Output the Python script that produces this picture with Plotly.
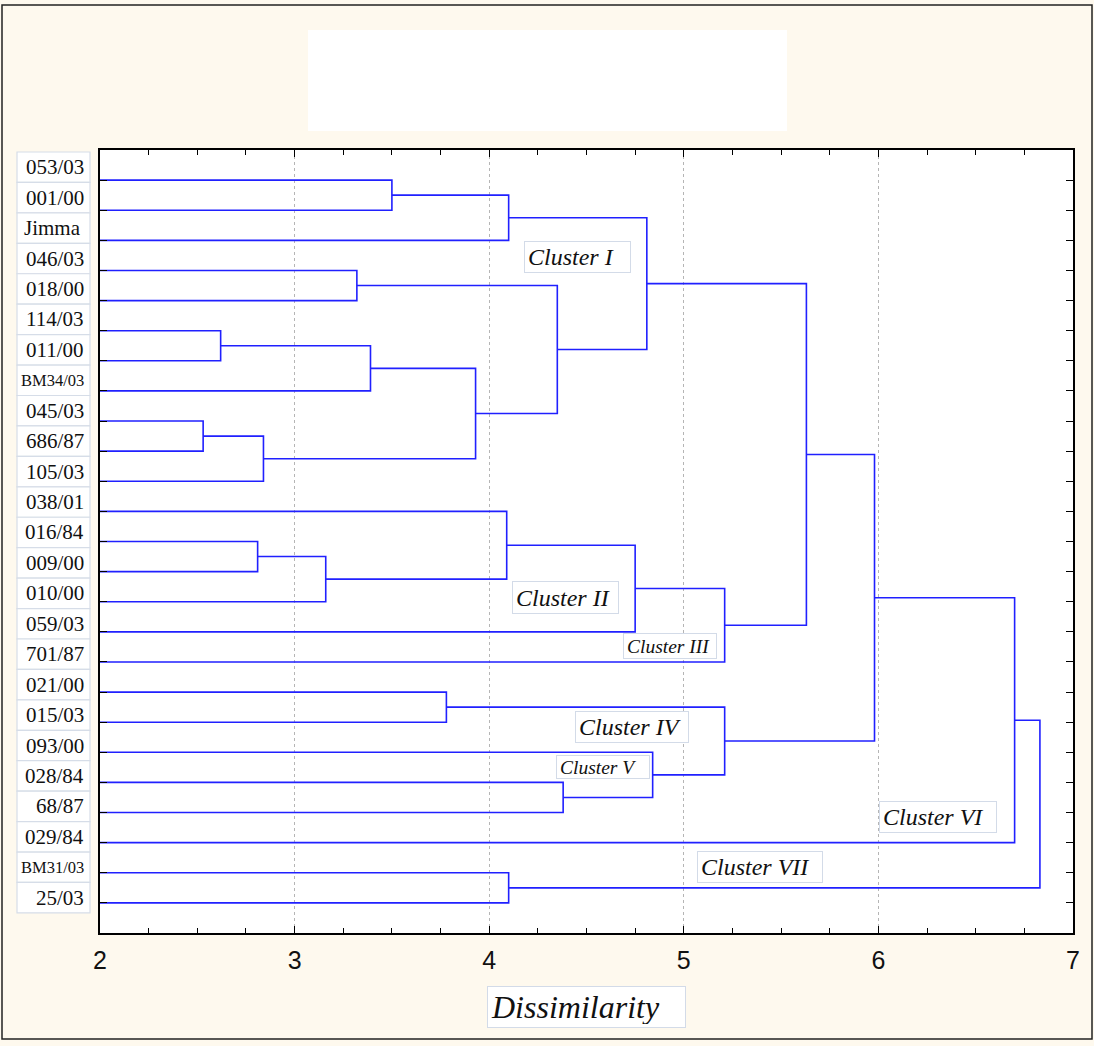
import plotly.graph_objects as go

# ---------------- data ----------------
leaves = ["053/03", "001/00", "Jimma", "046/03", "018/00", "114/03", "011/00",
          "BM34/03", "045/03", "686/87", "105/03", "038/01", "016/84", "009/00",
          "010/00", "059/03", "701/87", "021/00", "015/03", "093/00", "028/84",
          "68/87", "029/84", "BM31/03", "25/03"]

# merges: children are leaf names or "n<k>" (k-th merge)
merge_left = ["053/03", "n0", "046/03", "114/03", "n3", "045/03", "n5", "n4", "n2", "n1",
              "016/84", "n10", "038/01", "n12", "n13",
              "021/00", "028/84", "093/00", "n15",
              "n9", "n19", "n20", "BM31/03", "n21"]
merge_right = ["001/00", "Jimma", "018/00", "011/00", "BM34/03", "686/87", "105/03", "n6", "n7", "n8",
               "009/00", "010/00", "n11", "059/03", "701/87",
               "015/03", "68/87", "n16", "n17",
               "n14", "n18", "029/84", "25/03", "n22"]
merge_height = [3.50, 4.10, 3.32, 2.62, 3.39, 2.53, 2.84, 3.93, 4.35, 4.81,
                2.81, 3.16, 4.09, 4.75, 5.21,
                3.78, 4.38, 4.84, 5.21,
                5.63, 5.98, 6.70, 4.10, 6.83]

cluster_names = ["Cluster I", "Cluster II", "Cluster III", "Cluster IV",
                 "Cluster V", "Cluster VI", "Cluster VII"]
x_ticks = [2, 3, 4, 5, 6, 7]
x_title = "Dissimilarity"

# ---------------- layout helpers (styles / positions) ----------------
cl_x = [4.454, 4.392, 4.929, 4.734, 4.585, 6.306, 5.392]
cl_y = [2.557, 13.86, 15.47, 18.16, 19.49, 21.15, 22.81]
cl_w = [107, 107, 94, 114, 94, 118, 126]
cl_h = [32, 33, 26, 32, 24, 32, 32]
cl_size = [24, 24, 19.5, 24, 19.5, 24, 24]

XMIN = x_ticks[0]
leaf_y = {name: i for i, name in enumerate(leaves)}

node_x, node_y = [], []


def child_pos(ref):
    if ref.startswith("n") and ref[1:].isdigit():
        k = int(ref[1:])
        return node_x[k], node_y[k]
    return XMIN, leaf_y[ref]


xs, ys = [], []
for l, r, h in zip(merge_left, merge_right, merge_height):
    lx, ly = child_pos(l)
    rx, ry = child_pos(r)
    xs += [lx, h, h, rx, None]
    ys += [ly, ly, ry, ry, None]
    node_x.append(h)
    node_y.append((ly + ry) / 2)

fig = go.Figure()
fig.add_trace(go.Scatter(x=xs, y=ys, mode="lines",
                         line=dict(color="#2020ff", width=1.6),
                         hoverinfo="skip", showlegend=False))
# invisible trace on y2 to make the axis exist
fig.add_trace(go.Scatter(x=[XMIN], y=[0], yaxis="y2", mode="markers",
                         marker=dict(opacity=0), hoverinfo="skip", showlegend=False))

W, H = 1094, 1046
L, R, T, B = 100, 21, 150, 113
pw, ph = W - L - R, H - T - B


def px_x(p):
    return (p - L) / pw


def px_y(p):
    return (H - B - p) / ph


shapes = []
# outer frame
shapes.append(dict(type="rect", xref="paper", yref="paper",
                   x0=px_x(2), x1=px_x(1092), y0=px_y(1039), y1=px_y(5),
                   line=dict(color="#222", width=1.5), fillcolor="rgba(0,0,0,0)", layer="below"))
# blank title box
shapes.append(dict(type="rect", xref="paper", yref="paper",
                   x0=px_x(308), x1=px_x(787), y0=px_y(131), y1=px_y(30),
                   line=dict(width=0), fillcolor="white", layer="below"))
annotations = []
# label cells
for i, name in enumerate(leaves):
    shapes.append(dict(type="rect", xref="paper", yref="y2",
                       x0=px_x(17), x1=px_x(90), y0=i - 0.5, y1=i + 0.5,
                       line=dict(color="#d6dde8", width=1.2), fillcolor="white"))
    small = name.startswith("BM")
    left = name == "Jimma"
    annotations.append(dict(text=name, xref="paper", yref="y2",
                            x=px_x(22) if left else px_x(86), y=i,
                            xanchor="left" if left else "right", yanchor="middle",
                            showarrow=False,
                            font=dict(family="Liberation Serif, Times New Roman, serif",
                                      size=16.5 if small else 21, color="#111")))

# cluster labels
for name, x, y, w, h, s in zip(cluster_names, cl_x, cl_y, cl_w, cl_h, cl_size):
    annotations.append(dict(text=name, x=x, y=y, xref="x", yref="y",
                            xanchor="center", yanchor="middle", showarrow=False,
                            width=w - 8, height=h - 8, align="left", valign="middle",
                            bgcolor="white", bordercolor="#d3dbe8", borderwidth=1, borderpad=3,
                            font=dict(family="Liberation Serif, Times New Roman, serif",
                                      size=s, style="italic", color="#111")))

# axis title box
annotations.append(dict(text=x_title, xref="paper", yref="paper",
                        x=px_x(586), y=px_y(1007), xanchor="center", yanchor="middle",
                        showarrow=False, width=199 - 8, height=42 - 8, align="left",
                        bgcolor="white", bordercolor="#d3dbe8", borderwidth=1, borderpad=3,
                        font=dict(family="Liberation Serif, Times New Roman, serif",
                                  size=32, style="italic", color="#111")))

fig.update_layout(
    width=W, height=H,
    margin=dict(l=L, r=R, t=T, b=B, pad=0),
    paper_bgcolor="#fef9ee", plot_bgcolor="white",
    shapes=shapes, annotations=annotations,
    xaxis=dict(range=[x_ticks[0], x_ticks[-1]], tickvals=x_ticks,
               ticktext=[str(v) for v in x_ticks],
               showgrid=True, gridcolor="#b5b5b5", griddash="dot", gridwidth=1,
               zeroline=False, showline=True, linecolor="black", linewidth=2, mirror="ticks",
               ticks="inside", ticklen=7, tickcolor="black", tickwidth=1.2,
               ticklabelstandoff=4,
               minor=dict(dtick=0.25, ticks="inside", ticklen=5, tickcolor="black",
                          tickwidth=1, showgrid=False),
               tickfont=dict(family="Liberation Sans Narrow, Liberation Sans, Arial, sans-serif",
                             size=25, color="#111")),
    yaxis=dict(range=[len(leaves), -1], tickvals=list(range(len(leaves))),
               showticklabels=False, showgrid=False, zeroline=False,
               showline=True, linecolor="black", linewidth=2, mirror="ticks",
               ticks="inside", ticklen=7, tickcolor="black", tickwidth=1.2),
    yaxis2=dict(range=[25.16, -0.565], overlaying="y", visible=False, showgrid=False),
)

fig.write_html("out.html", config={"displayModeBar": False},
               post_script="document.body.style.margin='0';document.body.style.overflow='hidden';")
